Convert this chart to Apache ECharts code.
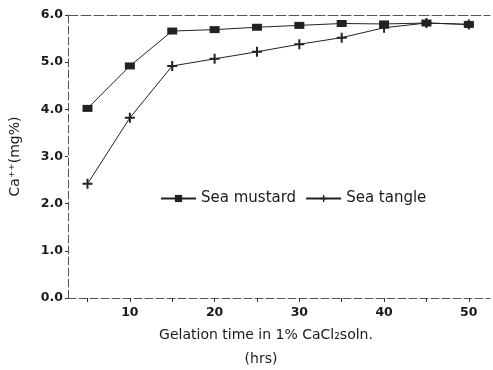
<!DOCTYPE html>
<html><head><meta charset="utf-8">
<script src="https://cdn.jsdelivr.net/npm/echarts@6/dist/echarts.min.js"></script>
<style>html,body{margin:0;padding:0;background:#fff}#c{width:493px;height:370px}</style>
</head><body><div id="c"></div>
<script>
const hours = [5, 10, 15, 20, 25, 30, 35, 40, 45, 50];
const seaMustard = [4.02, 4.92, 5.66, 5.69, 5.74, 5.78, 5.82, 5.81, 5.83, 5.80];
const seaTangle = [2.42, 3.82, 4.92, 5.07, 5.22, 5.38, 5.52, 5.73, 5.83, 5.80];
const xLabelValues = [10, 20, 30, 40, 50];
const xTickValues = [5, 10, 15, 20, 25, 30, 35, 40, 45, 50];
const seriesNames = ['Sea mustard', 'Sea tangle'];
const xTitle = 'Gelation time in 1% CaCl\u2082soln.';
const xUnit = '(hrs)';
const yTitle = 'Ca\u207A\u207A(mg%)';

const font = 'DejaVu Sans, sans-serif';
const ink = '#1a1a1a';
const plus = 'path://M4,0H6V4H10V6H6V10H4V6H0V4H4Z';

const chart = echarts.init(document.getElementById('c'));
chart.setOption({
  animation: false,
  backgroundColor: '#fff',
  grid: { left: 67, right: 3, top: 15, bottom: 72 },
  legend: {
    left: 155, top: 186,
    itemWidth: 35, itemHeight: 9, itemGap: 9,
    textStyle: { fontFamily: font, fontSize: 15, color: ink },
    data: seriesNames
  },
  graphic: [
    { type: 'text', x: 266, y: 335, style: { text: xTitle, font: '14px ' + font, fill: ink, textAlign: 'center', textVerticalAlign: 'middle' } },
    { type: 'text', x: 261, y: 359, style: { text: xUnit, font: '14px ' + font, fill: ink, textAlign: 'center', textVerticalAlign: 'middle' } }
  ],
  xAxis: [{
    type: 'value', min: 2.7, max: 52.5,
    axisLine: { lineStyle: { color: '#555', type: [8, 3], width: 1 } },
    axisTick: { show: true, length: 4, customValues: xTickValues, lineStyle: { color: '#333' } },
    axisLabel: { customValues: xLabelValues, fontFamily: font, fontSize: 12.5, fontWeight: 'bold', color: ink, margin: 8 },
    splitLine: { show: false }
  }, {
    type: 'value', position: 'top', min: 2.7, max: 52.5,
    axisLine: { show: true, lineStyle: { color: '#555', type: [10, 3], width: 1 } },
    axisTick: { show: false }, axisLabel: { show: false }, splitLine: { show: false }
  }],
  yAxis: {
    type: 'value', min: 0, max: 6, interval: 1,
    axisLine: { show: true, lineStyle: { color: '#555', type: [8, 3], width: 1 } },
    axisTick: { show: true, length: 3, lineStyle: { color: '#333' } },
    axisLabel: { formatter: v => v.toFixed(1), fontFamily: font, fontSize: 12.5, fontWeight: 'bold', color: ink, margin: 5 },
    splitLine: { show: false },
    name: yTitle, nameLocation: 'middle', nameGap: 46,
    nameTextStyle: { fontFamily: font, fontSize: 14, color: ink }
  },
  series: [{
    name: seriesNames[0], type: 'line',
    data: hours.map((h, i) => [h, seaMustard[i]]),
    symbol: 'rect', symbolSize: [10, 7],
    itemStyle: { color: '#222' },
    lineStyle: { color: '#222', width: 1 }
  }, {
    name: seriesNames[1], type: 'line',
    data: hours.map((h, i) => [h, seaTangle[i]]),
    symbol: plus, symbolSize: 10,
    itemStyle: { color: '#222' },
    lineStyle: { color: '#222', width: 1 }
  }]
});
</script></body></html>
